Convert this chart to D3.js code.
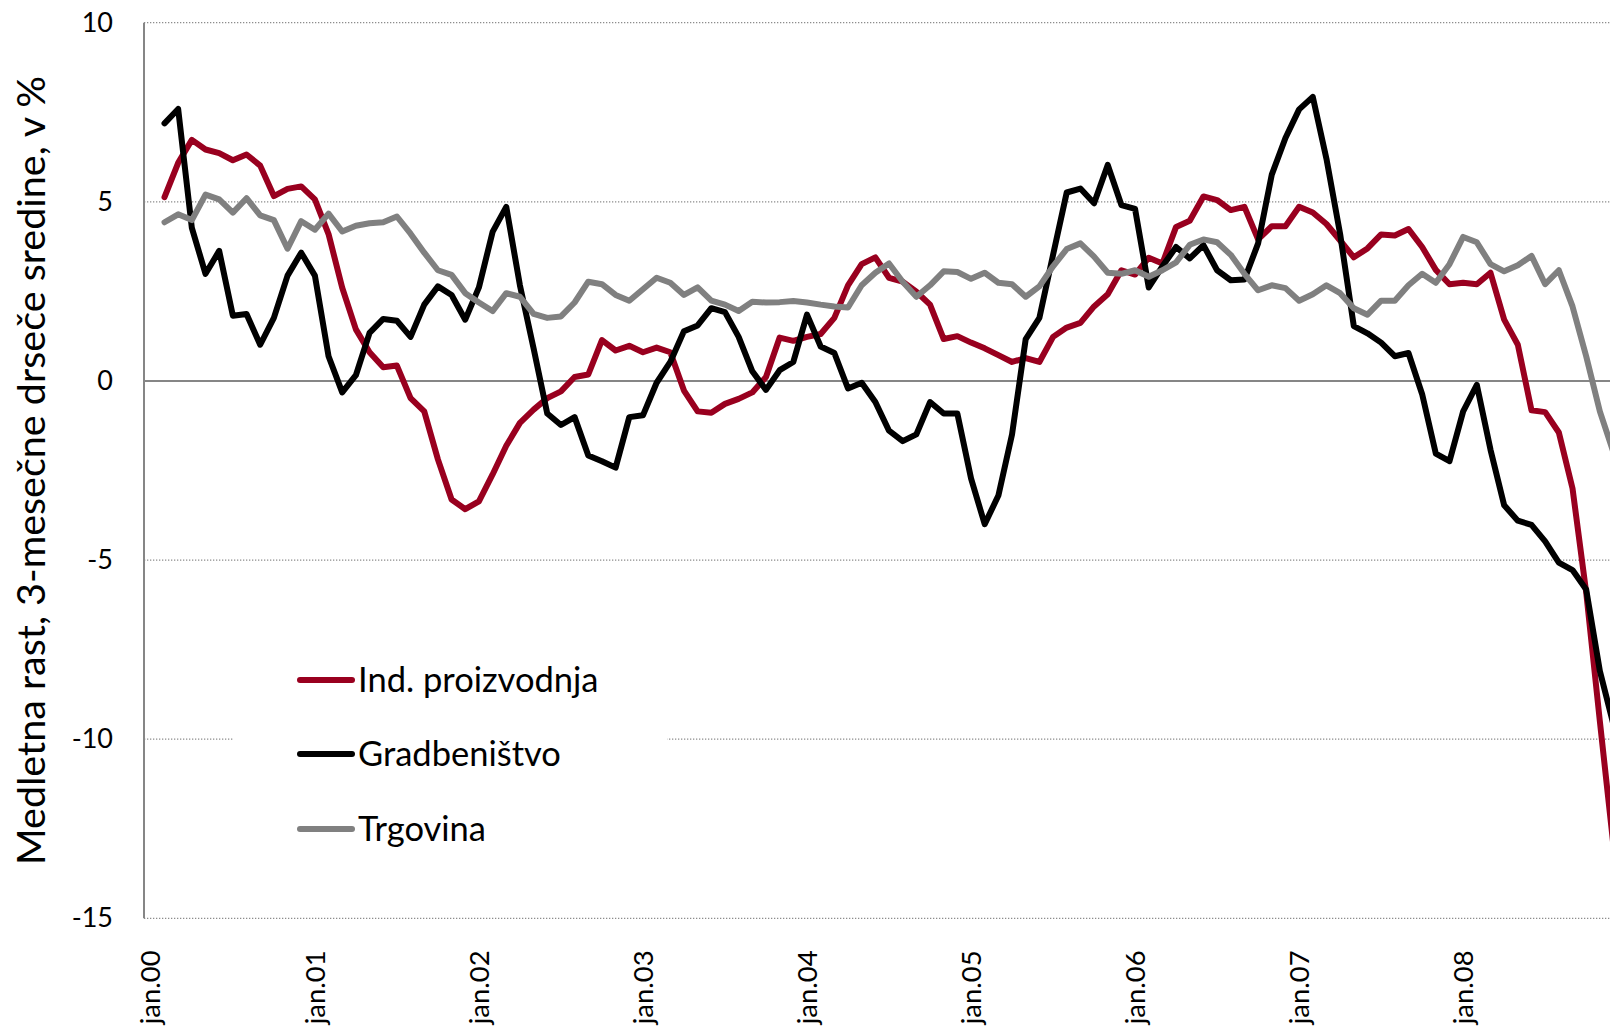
<!DOCTYPE html>
<html>
<head>
<meta charset="utf-8">
<script src="https://cdn.jsdelivr.net/npm/d3@7"></script>
<style>
  body { margin: 0; background: #fff; }
  text { font-family: Lato, "Open Sans", sans-serif; }
</style>
</head>
<body>
<div id="chart"></div>
<script>
// month categories jan.00 .. dec.08
var months = ["jan","feb","mar","apr","maj","jun","jul","avg","sep","okt","nov","dec"];
var years = ["00","01","02","03","04","05","06","07","08"];
var categories = [];
years.forEach(function(y) {
  months.forEach(function(m) { categories.push(m + "." + y); });
});
var tickLabels = years.map(function(y) { return "jan." + y; });

var seriesNames = ["Ind. proizvodnja", "Gradbeništvo", "Trgovina"];

// Ind. proizvodnja
var indValues = [null,
  5.13, 6.09, 6.73, 6.46, 6.36, 6.16, 6.32, 6.01, 5.16, 5.36, 5.43,
  5.07, 4.10, 2.60, 1.44, 0.80, 0.38, 0.43, -0.48, -0.85, -2.19, -3.31, -3.58,
  -3.36, -2.61, -1.81, -1.17, -0.80, -0.48, -0.29, 0.11, 0.18, 1.14, 0.85, 0.98,
  0.80, 0.93, 0.80, -0.27, -0.85, -0.89, -0.64, -0.50, -0.32, 0.11, 1.21, 1.12,
  1.23, 1.31, 1.76, 2.67, 3.26, 3.45, 2.88, 2.77, 2.49, 2.13, 1.17, 1.25,
  1.07, 0.91, 0.72, 0.53, 0.64, 0.53, 1.23, 1.49, 1.62, 2.08, 2.42, 3.09,
  2.97, 3.44, 3.28, 4.30, 4.47, 5.15, 5.05, 4.77, 4.86, 3.95, 4.32, 4.32,
  4.86, 4.70, 4.38, 3.92, 3.45, 3.70, 4.09, 4.06, 4.24, 3.74, 3.10, 2.70,
  2.74, 2.70, 3.02, 1.71, 1.01, -0.82, -0.87, -1.44, -3.00, -5.90, -9.50, -13.00];

// Gradbeništvo
var gradValues = [null,
  7.19, 7.59, 4.27, 2.99, 3.63, 1.82, 1.87, 1.01, 1.76, 2.94, 3.58,
  2.94, 0.69, -0.32, 0.16, 1.34, 1.73, 1.68, 1.23, 2.13, 2.64, 2.40, 1.71,
  2.61, 4.16, 4.86, 2.67, 0.91, -0.91, -1.23, -1.01, -2.08, -2.24, -2.42, -1.01,
  -0.96, -0.05, 0.53, 1.39, 1.55, 2.03, 1.92, 1.23, 0.27, -0.25, 0.30, 0.53,
  1.85, 0.96, 0.78, -0.21, -0.05, -0.59, -1.39, -1.68, -1.49, -0.59, -0.91, -0.91,
  -2.72, -4.00, -3.20, -1.49, 1.17, 1.76, 3.52, 5.26, 5.37, 4.96, 6.03, 4.91,
  4.80, 2.61, 3.20, 3.74, 3.42, 3.79, 3.09, 2.81, 2.83, 3.84, 5.76, 6.78,
  7.58, 7.93, 6.20, 4.10, 1.53, 1.33, 1.07, 0.69, 0.78, -0.37, -2.03, -2.24,
  -0.85, -0.11, -1.92, -3.47, -3.90, -4.02, -4.48, -5.07, -5.28, -5.82, -8.10, -9.60];

// Trgovina
var trgValues = [null,
  4.43, 4.65, 4.49, 5.20, 5.07, 4.70, 5.10, 4.62, 4.49, 3.69, 4.46,
  4.22, 4.67, 4.17, 4.33, 4.40, 4.43, 4.59, 4.11, 3.58, 3.09, 2.96, 2.45,
  2.19, 1.95, 2.45, 2.35, 1.87, 1.76, 1.80, 2.19, 2.77, 2.70, 2.40, 2.24,
  2.56, 2.88, 2.74, 2.40, 2.61, 2.24, 2.13, 1.95, 2.21, 2.19, 2.20, 2.23,
  2.19, 2.13, 2.08, 2.05, 2.67, 3.02, 3.28, 2.77, 2.35, 2.67, 3.06, 3.04,
  2.85, 3.02, 2.74, 2.70, 2.35, 2.64, 3.20, 3.68, 3.84, 3.47, 3.02, 2.99,
  3.09, 2.91, 3.09, 3.31, 3.80, 3.95, 3.87, 3.52, 2.99, 2.53, 2.67, 2.59,
  2.24, 2.42, 2.67, 2.45, 2.03, 1.85, 2.24, 2.24, 2.67, 2.99, 2.74, 3.26,
  4.02, 3.87, 3.26, 3.06, 3.23, 3.49, 2.70, 3.09, 2.08, 0.69, -0.85, -2.00];

var yTicks = [10, 5, 0, -5, -10, -15];
var colors = ["#99001f", "#000000", "#808080"];

////////////////////// init ////////////////////////////////////////////
var width = 1610, height = 1031;
var plotLeft = 144, plotTop = 22.7, plotBottom = 918.3;
var catWidth = 13.67;

var svg = d3.select('#chart')
  .append('svg')
    .attr('width', width)
    .attr('height', height);

var x = d3.scaleBand()
  .domain(categories)
  .range([plotLeft, plotLeft + catWidth * categories.length])
  .padding(0);

var y = d3.scaleLinear()
  .domain([-15, 10])
  .range([plotBottom, plotTop]);

function cx(c) { return x(c) + x.bandwidth() / 2; }

////////////////////// gridlines ////////////////////////////////////////
svg.append('g')
  .selectAll('line')
  .data(yTicks.filter(function(d) { return d !== 0; }))
  .enter()
  .append('line')
    .attr('x1', plotLeft)
    .attr('x2', width)
    .attr('y1', function(d) { return y(d); })
    .attr('y2', function(d) { return y(d); })
    .attr('stroke', '#8c8c8c')
    .attr('stroke-width', 1.3)
    .attr('stroke-dasharray', '1.3,1.7');

// zero line
svg.append('line')
  .attr('x1', plotLeft)
  .attr('x2', width)
  .attr('y1', y(0))
  .attr('y2', y(0))
  .attr('stroke', '#868686')
  .attr('stroke-width', 2);

// y axis line
svg.append('line')
  .attr('x1', plotLeft)
  .attr('x2', plotLeft)
  .attr('y1', y(10))
  .attr('y2', y(-15))
  .attr('stroke', '#868686')
  .attr('stroke-width', 2);

////////////////////// axes /////////////////////////////////////////////
var yAxis = d3.axisLeft(y)
  .tickValues(yTicks)
  .tickFormat(function(d) { return String(d); })
  .tickSize(0)
  .tickPadding(31);
var yg = svg.append('g')
  .attr('transform', 'translate(' + plotLeft + ',0)')
  .call(yAxis);
yg.select('.domain').remove();
yg.selectAll('text')
  .attr('font-size', 27)
  .attr('font-family', 'Lato, sans-serif')
  .attr('fill', '#000');

var xAxis = d3.axisBottom(x).tickValues(tickLabels).tickSize(0);
var xg = svg.append('g')
  .attr('transform', 'translate(0,' + plotBottom + ')')
  .call(xAxis);
xg.select('.domain').remove();
xg.selectAll('text')
  .attr('font-size', 27.5)
  .attr('font-family', 'Lato, sans-serif')
  .attr('fill', '#000')
  .attr('transform', 'rotate(-90)')
  .attr('x', -32)
  .attr('y', 0)
  .attr('dy', '0.35em')
  .style('text-anchor', 'end');

// y title
svg.append('text')
  .attr('transform', 'translate(45,' + ((plotTop + plotBottom) / 2) + ') rotate(-90)')
  .attr('text-anchor', 'middle')
  .attr('font-size', 39.5)
  .attr('fill', '#000')
  .text('Medletna rast, 3-mesečne drseče sredine, v %');

////////////////////// legend background ///////////////////////////////
svg.append('rect')
  .attr('x', 234)
  .attr('y', 632)
  .attr('width', 433)
  .attr('height', 240)
  .attr('fill', '#fff');

////////////////////// lines ////////////////////////////////////////////
var allSeries = [indValues, gradValues, trgValues];
var line = d3.line()
  .defined(function(d) { return d != null; })
  .x(function(d, i) { return cx(categories[i]); })
  .y(function(d) { return y(d); });

svg.append('g')
  .selectAll('path')
  .data(allSeries)
  .enter()
  .append('path')
    .attr('d', function(d) { return line(d); })
    .attr('fill', 'none')
    .attr('stroke', function(d, i) { return colors[i]; })
    .attr('stroke-width', 6)
    .attr('stroke-linejoin', 'round')
    .attr('stroke-linecap', 'round');

////////////////////// legend ///////////////////////////////////////////
var legendY = [680, 754, 829];
var lg = svg.append('g');
seriesNames.forEach(function(name, i) {
  lg.append('line')
    .attr('x1', 300)
    .attr('x2', 352)
    .attr('y1', legendY[i])
    .attr('y2', legendY[i])
    .attr('stroke', colors[i])
    .attr('stroke-width', 6)
    .attr('stroke-linecap', 'round');
  lg.append('text')
    .attr('x', 358)
    .attr('y', legendY[i])
    .attr('dy', '0.35em')
    .attr('font-size', 34.5)
    .attr('fill', '#000')
    .text(name);
});
</script>
</body>
</html>
